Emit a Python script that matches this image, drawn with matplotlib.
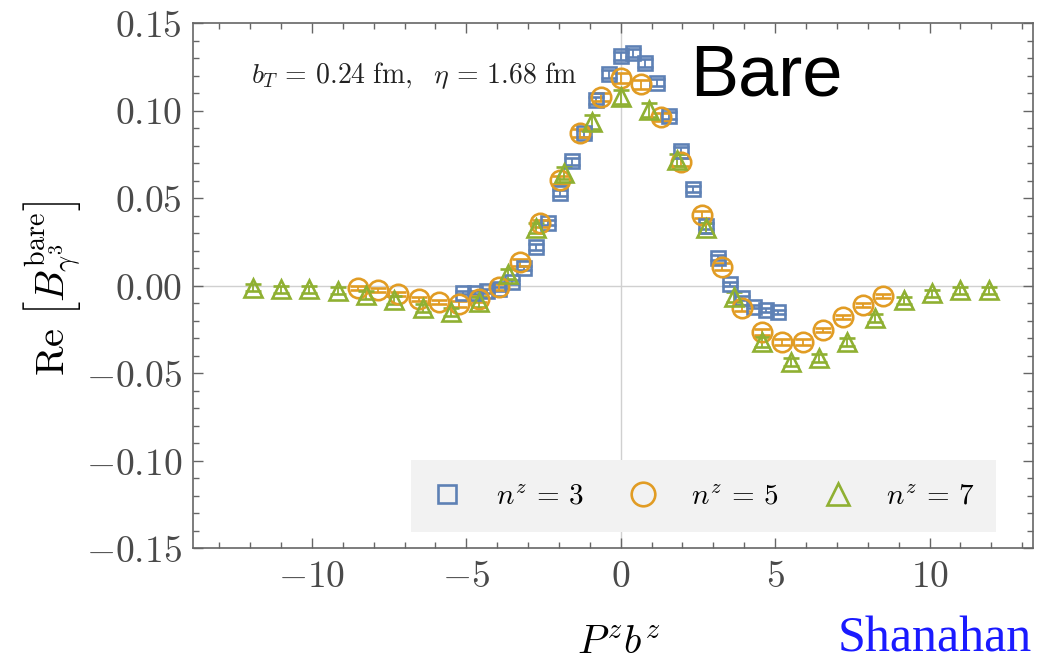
import numpy as np
import matplotlib.pyplot as plt
from matplotlib.lines import Line2D
from matplotlib.ticker import MultipleLocator, FuncFormatter

plt.rcParams['mathtext.fontset'] = 'cm'

# lattice separations b^z (in units of a) and momenta P^z = 2*pi*n^z/48
bz = list(range(-13, 14))
pz = {3: 0.3927, 5: 0.6545, 7: 0.9163}

re_n3 = [-0.004, -0.004, -0.003, -0.002, 0.002, 0.010, 0.022, 0.036, 0.053,
         0.071, 0.087, 0.106, 0.121, 0.131, 0.133, 0.127, 0.116, 0.097,
         0.077, 0.055, 0.034, 0.016, 0.001, -0.007, -0.012, -0.014, -0.015]
err_n3 = [0.001, 0.001, 0.001, 0.001, 0.0012, 0.0012, 0.0015, 0.0015, 0.0018,
          0.002, 0.002, 0.002, 0.0022, 0.0022, 0.0022, 0.0022, 0.002, 0.002,
          0.002, 0.0018, 0.0015, 0.0015, 0.0012, 0.0012, 0.001, 0.001, 0.001]

re_n5 = [-0.0014, -0.0026, -0.0049, -0.0077, -0.0094, -0.0106, -0.0077, -0.001,
         0.0134, 0.0357, 0.0603, 0.0871, 0.1077, 0.1186, 0.115, 0.0963, 0.0706,
         0.0403, 0.0106, -0.0129, -0.0266, -0.0323, -0.0323, -0.0254, -0.018,
         -0.0111, -0.006]
err_n5 = [0.0012, 0.0012, 0.0012, 0.0014, 0.0014, 0.0015, 0.0015, 0.0018,
          0.002, 0.002, 0.0022, 0.0025, 0.0025, 0.0028, 0.0025, 0.0025, 0.0022,
          0.002, 0.002, 0.0018, 0.0018, 0.0015, 0.0015, 0.0014, 0.0014, 0.0012, 0.0012]

re_n7 = [-0.0014, -0.002, -0.002, -0.003, -0.0054, -0.0083, -0.0129, -0.0151,
         -0.0094, 0.0066, 0.0329, 0.0643, 0.0934, 0.1077, 0.1003, 0.0717, 0.0329,
         -0.0066, -0.0323, -0.0437, -0.0414, -0.0323, -0.0186, -0.0083, -0.0043,
         -0.0026, -0.0026]
err_n7 = [0.002, 0.002, 0.002, 0.002, 0.0022, 0.0022, 0.0025, 0.0025, 0.0028,
          0.003, 0.003, 0.0035, 0.004, 0.004, 0.004, 0.0035, 0.003, 0.003,
          0.0028, 0.0025, 0.0025, 0.0022, 0.0022, 0.002, 0.002, 0.002, 0.002]

colors = {3: '#5E81B5', 5: '#E19C24', 7: '#8FB032'}
markers = {3: 's', 5: 'o', 7: '^'}
msizes = {3: 10, 5: 14, 7: 12.5}
series = {3: (re_n3, err_n3), 5: (re_n5, err_n5), 7: (re_n7, err_n7)}

fig = plt.figure(figsize=(10.39, 6.67), dpi=100)
ax = fig.add_axes([193/1039, 1-548/667, (1033-193)/1039, (548-23)/667])

ax.axhline(0, color='#d0d0d0', lw=1, zorder=0)
ax.axvline(0, color='#d0d0d0', lw=1, zorder=0)

for n in [3, 5, 7]:
    x = [pz[n]*b for b in bz]
    y, e = series[n]
    ax.errorbar(x, y, yerr=e, fmt=markers[n], color=colors[n], mfc='none',
                mec=colors[n], ms=msizes[n], mew=1.9, elinewidth=1.3,
                capsize=6, capthick=1.3, zorder=3)

ax.set_xlim(-13.85, 13.35)
ax.set_ylim(-0.15, 0.15)
ax.xaxis.set_major_locator(MultipleLocator(5))
ax.xaxis.set_minor_locator(MultipleLocator(1))
ax.yaxis.set_major_locator(MultipleLocator(0.05))
ax.yaxis.set_minor_locator(MultipleLocator(0.01))
ax.xaxis.set_major_formatter(FuncFormatter(lambda v, p: '$%g$' % v))
ax.yaxis.set_major_formatter(FuncFormatter(lambda v, p: '$%.2f$' % v))
ax.tick_params(which='both', direction='in', top=True, right=True,
               color='#666666', width=1, labelcolor='#4a4a4a', labelsize=27)
ax.tick_params(which='major', length=7, pad=8)
ax.tick_params(which='minor', length=4)
for s in ax.spines.values():
    s.set_color('#666666')
    s.set_linewidth(1.2)

ax.text(-11.98, 0.120,
        r'$b_T \,=\, 0.24\ \mathrm{fm},\ \ \eta \,=\, 1.68\ \mathrm{fm}$',
        fontsize=20, va='center', ha='left', color='#222222')

handles = [Line2D([], [], ls='none', marker=markers[n], mfc='none', mec=colors[n],
                  mew=1.9, ms=msizes[n] + 3) for n in [3, 5, 7]]
labels = [r'$n^z \,=\, 3$', r'$n^z \,=\, 5$', r'$n^z \,=\, 7$']
leg = ax.legend(handles, labels, ncol=3, loc='center',
                bbox_to_anchor=(0.608, 0.099),
                frameon=True, facecolor='#f2f2f2', edgecolor='none', fancybox=False,
                fontsize=21, handlelength=1.0, handletextpad=1.15,
                columnspacing=1.55, borderpad=0.75)
leg.get_frame().set_alpha(1)

fig.text(619/1039, 1-643/667, r'$P^z b^z$', ha='center', va='center', fontsize=29)
fig.text(52/1039, 1-288/667, r'$\mathrm{Re}\ \left[B^{\mathrm{bare}}_{\gamma^3}\right]$',
         rotation=90, ha='center', va='center', fontsize=29)
fig.text(690/1039, 1-95/667, 'Bare', family='Liberation Sans', fontsize=52,
         color='black', va='baseline')
fig.text(838/1039, 1-652/667, 'Shanahan', family='Liberation Serif', fontsize=36,
         color='#1a1aff', va='baseline')

fig.savefig('out.png', dpi=100)
